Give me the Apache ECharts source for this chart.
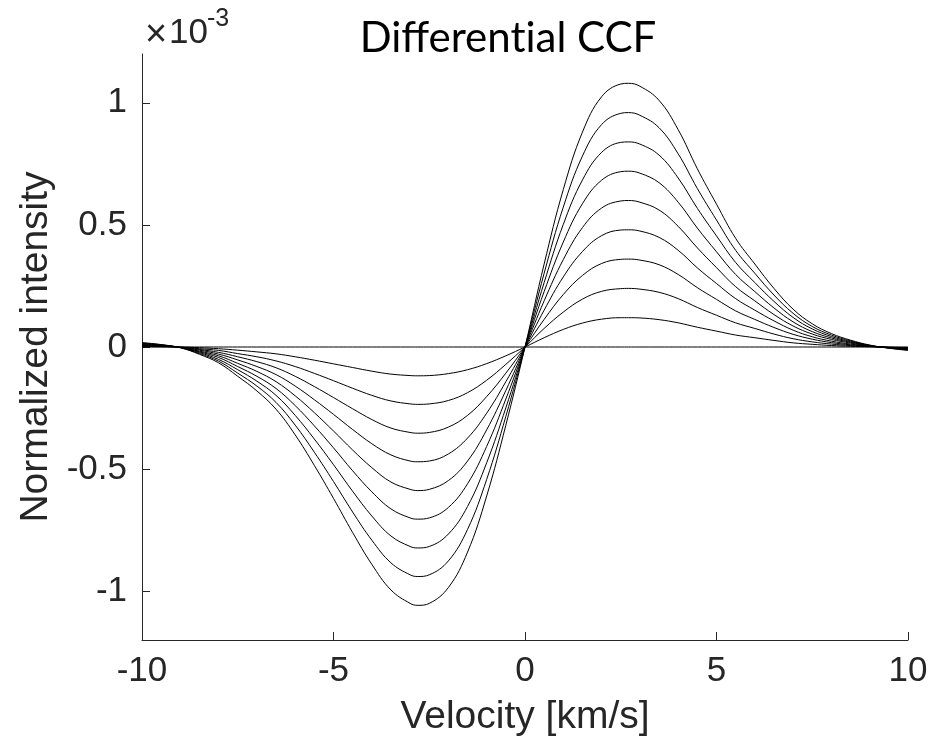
<!DOCTYPE html>
<html>
<head>
<meta charset="utf-8">
<title>Differential CCF</title>
<script src="https://cdn.jsdelivr.net/npm/echarts@6/dist/echarts.min.js"></script>
<style>
  html, body { margin: 0; padding: 0; background: #fff; }
  #chart { width: 947px; height: 745px; }
</style>
</head>
<body>
<div id="chart"></div>
<script>
// velocity grid [km/s], with the extra points at the trough (-2.8) and the peak (2.7)
const velocity = [-10, -9.5, -9, -8.5, -8, -7.5, -7, -6.5, -6, -5.5, -5, -4.5, -4, -3.5, -3, -2.8, -2.5, -2, -1.5, -1, -0.5,
  0, 0.5, 1, 1.5, 2, 2.5, 2.7, 3, 3.5, 4, 4.5, 5, 5.5, 6, 6.5, 7, 7.5, 8, 8.5, 9, 9.5, 10];

// normalized intensity in units of 1e-3 (smallest curve first)
const curve0 = [0, 0, 0, 0, 0, 0, 0, 0, 0, 0, 0, 0, 0, 0, 0, 0, 0, 0, 0, 0, 0,
  0, 0, 0, 0, 0, 0, 0, 0, 0, 0, 0, 0, 0, 0, 0, 0, 0, 0, 0, 0, 0, 0];
const curve1 = [0.002, 0.001, 0.000, -0.003, -0.007, -0.013, -0.020, -0.028, -0.040, -0.054, -0.069, -0.084, -0.099, -0.111, -0.117, -0.118, -0.117, -0.109, -0.093, -0.068, -0.036,
  0, 0.038, 0.072, 0.098, 0.114, 0.120, 0.120, 0.119, 0.112, 0.099, 0.081, 0.065, 0.049, 0.038, 0.027, 0.017, 0.011, 0.006, 0.003, 0.001, -0.001, -0.002];
const curve2 = [0.004, 0.002, -0.001, -0.007, -0.014, -0.027, -0.040, -0.057, -0.080, -0.108, -0.138, -0.169, -0.198, -0.221, -0.233, -0.235, -0.233, -0.219, -0.187, -0.136, -0.071,
  0, 0.076, 0.143, 0.196, 0.228, 0.239, 0.240, 0.237, 0.224, 0.198, 0.162, 0.130, 0.099, 0.076, 0.053, 0.034, 0.021, 0.012, 0.006, 0.002, -0.001, -0.003];
const curve3 = [0.006, 0.003, -0.001, -0.010, -0.022, -0.040, -0.060, -0.085, -0.120, -0.162, -0.207, -0.253, -0.297, -0.332, -0.350, -0.353, -0.350, -0.328, -0.280, -0.203, -0.107,
  0, 0.113, 0.215, 0.293, 0.342, 0.359, 0.360, 0.356, 0.337, 0.297, 0.243, 0.195, 0.148, 0.113, 0.080, 0.052, 0.032, 0.018, 0.009, 0.003, -0.002, -0.005];
const curve4 = [0.008, 0.004, -0.001, -0.013, -0.029, -0.053, -0.080, -0.113, -0.160, -0.216, -0.276, -0.338, -0.396, -0.442, -0.467, -0.470, -0.467, -0.438, -0.373, -0.271, -0.142,
  0, 0.151, 0.287, 0.391, 0.456, 0.479, 0.480, 0.475, 0.449, 0.396, 0.324, 0.260, 0.198, 0.151, 0.107, 0.069, 0.042, 0.024, 0.012, 0.004, -0.002, -0.006];
const curve5 = [0.010, 0.006, -0.002, -0.017, -0.036, -0.067, -0.100, -0.142, -0.200, -0.269, -0.344, -0.422, -0.494, -0.553, -0.583, -0.588, -0.583, -0.547, -0.467, -0.339, -0.178,
  0, 0.189, 0.358, 0.489, 0.569, 0.598, 0.600, 0.593, 0.561, 0.494, 0.406, 0.325, 0.247, 0.189, 0.133, 0.086, 0.053, 0.031, 0.016, 0.004, -0.003, -0.008];
const curve6 = [0.012, 0.007, -0.002, -0.020, -0.043, -0.080, -0.120, -0.170, -0.240, -0.323, -0.413, -0.507, -0.593, -0.663, -0.700, -0.705, -0.700, -0.657, -0.560, -0.407, -0.213,
  0, 0.227, 0.430, 0.587, 0.683, 0.718, 0.720, 0.712, 0.673, 0.593, 0.487, 0.390, 0.297, 0.227, 0.160, 0.103, 0.063, 0.037, 0.019, 0.005, -0.003, -0.009];
const curve7 = [0.014, 0.008, -0.002, -0.023, -0.051, -0.093, -0.140, -0.198, -0.280, -0.377, -0.482, -0.591, -0.692, -0.774, -0.817, -0.823, -0.817, -0.766, -0.653, -0.474, -0.249,
  0, 0.264, 0.502, 0.684, 0.797, 0.838, 0.840, 0.831, 0.786, 0.692, 0.568, 0.455, 0.346, 0.264, 0.187, 0.121, 0.074, 0.043, 0.022, 0.006, -0.004, -0.011];
const curve8 = [0.016, 0.009, -0.003, -0.027, -0.058, -0.107, -0.160, -0.227, -0.320, -0.431, -0.551, -0.676, -0.791, -0.884, -0.933, -0.940, -0.933, -0.876, -0.747, -0.542, -0.284,
  0, 0.302, 0.573, 0.782, 0.911, 0.957, 0.960, 0.949, 0.898, 0.791, 0.649, 0.520, 0.396, 0.302, 0.213, 0.138, 0.084, 0.049, 0.025, 0.007, -0.004, -0.012];
const curve9 = [0.018, 0.010, -0.003, -0.030, -0.065, -0.120, -0.180, -0.255, -0.360, -0.485, -0.620, -0.760, -0.890, -0.995, -1.050, -1.058, -1.050, -0.985, -0.840, -0.610, -0.320,
  0, 0.340, 0.645, 0.880, 1.025, 1.077, 1.080, 1.068, 1.010, 0.890, 0.730, 0.585, 0.445, 0.340, 0.240, 0.155, 0.095, 0.055, 0.028, 0.008, -0.005, -0.014];

const curves = [curve0, curve1, curve2, curve3, curve4, curve5, curve6, curve7, curve8, curve9];
const yTicks = [-1, -0.5, 0, 0.5, 1];

const axisColor = "#262626";
const tickFont = "Liberation Sans";

const chart = echarts.init(document.getElementById("chart"));

chart.setOption({
  animation: false,
  backgroundColor: "#fff",
  grid: { left: 142, right: 39, top: 54, bottom: 105 },
  graphic: [
    {
      type: "text",
      x: 508,
      y: 38,
      // split between "t" and "i" so Lato does not draw its "ti" ligature
      style: {
        text: "{t|Different}{t|ial CCF}",
        rich: { t: { fontFamily: "Lato", fontSize: 42, color: "#000" } },
        align: "center",
        verticalAlign: "middle",
      },
    },
    {
      type: "text",
      x: 145,
      y: 36,
      style: { text: "\u00d7", font: "38px 'Liberation Sans'", fill: axisColor, align: "left", verticalAlign: "middle" },
    },
    {
      type: "text",
      x: 169,
      y: 33,
      style: { text: "10", font: "35px 'Liberation Sans'", fill: axisColor, align: "left", verticalAlign: "middle" },
    },
    {
      type: "text",
      x: 207,
      y: 19,
      style: { text: "-3", font: "25px 'Liberation Sans'", fill: axisColor, align: "left", verticalAlign: "middle" },
    },
  ],
  xAxis: {
    type: "value",
    min: -10,
    max: 10,
    interval: 5,
    name: "Velocity [km/s]",
    nameLocation: "middle",
    nameGap: 58,
    nameTextStyle: { fontFamily: tickFont, fontSize: 39, color: axisColor },
    axisLine: { onZero: false, lineStyle: { color: axisColor, width: 1 } },
    axisTick: { inside: true, length: 8, lineStyle: { color: axisColor } },
    axisLabel: { fontFamily: tickFont, fontSize: 35, color: axisColor, margin: 14 },
    splitLine: { show: false },
  },
  yAxis: {
    type: "value",
    min: -1.2,
    max: 1.2,
    name: "Normalized intensity",
    nameLocation: "middle",
    nameGap: 82,
    nameTextStyle: { fontFamily: tickFont, fontSize: 39, color: axisColor },
    axisLine: { show: true, onZero: false, lineStyle: { color: axisColor, width: 1 } },
    axisTick: { show: true, inside: true, length: 8, customValues: yTicks, lineStyle: { color: axisColor } },
    axisLabel: { fontFamily: tickFont, fontSize: 35, color: axisColor, margin: 15, customValues: yTicks },
    splitLine: { show: false },
  },
  series: curves.map((c) => ({
    type: "line",
    data: velocity.map((v, i) => [v, c[i]]),
    showSymbol: false,
    smooth: 0.4,
    lineStyle: { color: "#000", width: 1 },
    silent: true,
  })),
});
</script>
</body>
</html>
